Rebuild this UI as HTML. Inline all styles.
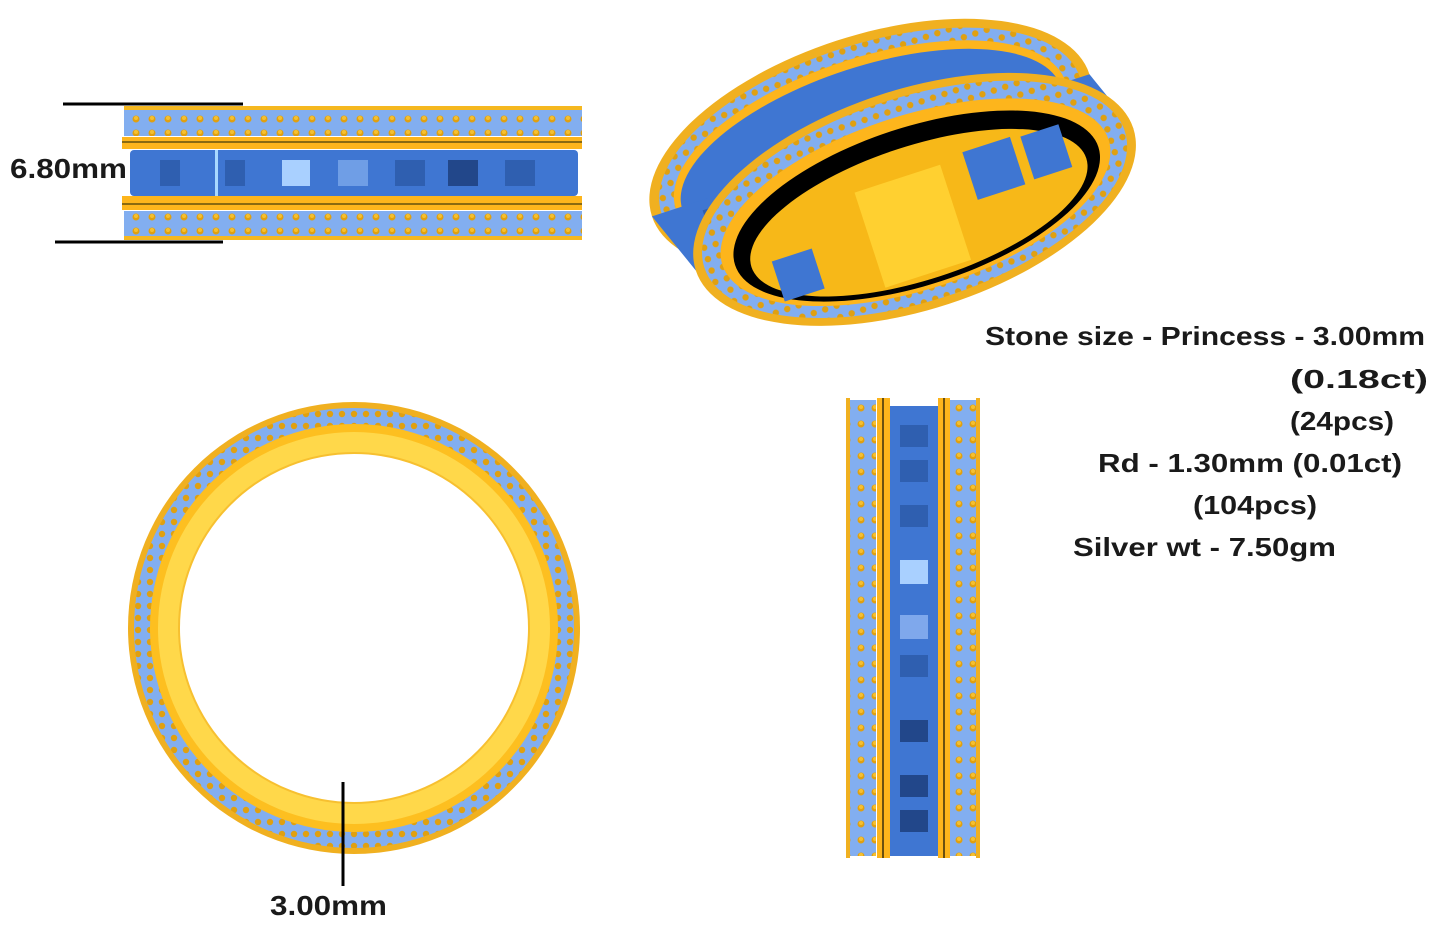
<!DOCTYPE html>
<html><head><meta charset="utf-8"><style>
html,body{margin:0;padding:0;background:#fff;width:1436px;height:938px;overflow:hidden}
svg{display:block}
text{font-family:"Liberation Sans",sans-serif;font-weight:bold;fill:#1a1a1a}
</style></head><body>
<svg width="1436" height="938" viewBox="0 0 1436 938">
<defs>
<pattern id="paveH" width="16" height="14" patternUnits="userSpaceOnUse">
<rect width="16" height="14" fill="#82aef0"/>
<circle cx="8" cy="7" r="3.5" fill="#e0a010"/><circle cx="8" cy="6" r="2" fill="#f5c030"/>
</pattern>
<pattern id="paveV" width="14" height="16" patternUnits="userSpaceOnUse">
<rect width="14" height="16" fill="#82aef0"/>
<circle cx="7" cy="8" r="3.5" fill="#e0a010"/><circle cx="7" cy="7" r="2" fill="#f5c030"/>
</pattern>
<pattern id="paveC" width="12" height="12" patternUnits="userSpaceOnUse">
<rect width="12" height="12" fill="#82aef0"/>
<circle cx="6" cy="6" r="3.2" fill="#e0a010"/>
</pattern>
</defs>

<!-- Top-left band -->
<line x1="63" y1="104" x2="243" y2="104" stroke="#000" stroke-width="3"/>
<line x1="55" y1="242" x2="223" y2="242" stroke="#000" stroke-width="3"/>
<rect x="124" y="108" width="458" height="28" fill="url(#paveH)"/>
<rect x="124" y="106" width="458" height="4" fill="#f5b820"/>
<rect x="122" y="137" width="460" height="12" fill="#fdb51c"/>
<rect x="122" y="141" width="460" height="2" fill="#8a6a10"/>
<rect x="130" y="150" width="448" height="46" rx="4" fill="#3f76d2"/>
<g fill="#2f5fb0">
<rect x="160" y="160" width="20" height="26"/><rect x="225" y="160" width="20" height="26"/>
<rect x="338" y="160" width="30" height="26" fill="#6f9ee6"/><rect x="395" y="160" width="30" height="26"/>
<rect x="448" y="160" width="30" height="26" fill="#22478a"/><rect x="505" y="160" width="30" height="26"/>
</g>
<rect x="282" y="160" width="28" height="26" fill="#a9d0ff"/>
<rect x="215" y="150" width="3" height="46" fill="#a9d8ff"/>
<rect x="122" y="196" width="460" height="14" fill="#fdb51c"/>
<rect x="122" y="203" width="460" height="2" fill="#8a6a10"/>
<rect x="124" y="211" width="458" height="28" fill="url(#paveH)"/>
<rect x="124" y="236" width="458" height="4" fill="#f5b820"/>
<text x="10" y="178" font-size="28" textLength="117" lengthAdjust="spacingAndGlyphs">6.80mm</text>

<!-- Perspective ring -->
<g transform="rotate(-18 892 172)">
<ellipse cx="880" cy="140" rx="230" ry="110" fill="#f0b020"/>
<ellipse cx="880" cy="140" rx="220" ry="101" fill="url(#paveC)"/>
<ellipse cx="880" cy="140" rx="205" ry="88" fill="#fdb51c"/>
<ellipse cx="880" cy="143" rx="199" ry="82" fill="#3f76d2"/>
<polygon points="650,140 1110,140 1135,205 675,205" fill="#3f76d2"/>
<g fill="#2f5fb0">
<rect x="700" y="150" width="40" height="40"/><rect x="770" y="140" width="40" height="40"/>
<rect x="930" y="130" width="40" height="40"/><rect x="1010" y="130" width="40" height="40" fill="#22478a"/>
</g>
<rect x="850" y="135" width="40" height="40" fill="#a9d0ff"/>
<ellipse cx="905" cy="205" rx="230" ry="110" fill="#f0b020"/>
<ellipse cx="905" cy="205" rx="221" ry="102" fill="url(#paveC)"/>
<ellipse cx="905" cy="208" rx="203" ry="87" fill="#fdb51c"/>
<ellipse cx="905" cy="212" rx="191" ry="79" fill="#000"/>
<ellipse cx="905" cy="219" rx="176" ry="67" fill="#f7b818"/>
<rect x="850" y="180" width="90" height="100" fill="#ffd030"/>
<rect x="965" y="175" width="50" height="50" fill="#3f76d2"/>
<rect x="1025" y="178" width="40" height="45" fill="#3f76d2"/>
<rect x="750" y="220" width="42" height="42" fill="#3f76d2"/>
</g>

<!-- Circle view -->
<circle cx="354" cy="628" r="226" fill="#f0b020"/>
<circle cx="354" cy="628" r="220" fill="url(#paveC)"/>
<circle cx="354" cy="628" r="204" fill="#fdbf20"/>
<circle cx="354" cy="628" r="196" fill="#ffd84a"/>
<circle cx="354" cy="628" r="175" fill="#fff" stroke="#f7c030" stroke-width="2"/>
<line x1="343" y1="782" x2="343" y2="886" stroke="#000" stroke-width="3"/>
<text x="270" y="915" font-size="28" textLength="117" lengthAdjust="spacingAndGlyphs">3.00mm</text>

<!-- Vertical band -->
<rect x="848" y="400" width="28" height="456" fill="url(#paveV)"/>
<rect x="950" y="400" width="28" height="456" fill="url(#paveV)"/>
<rect x="846" y="398" width="4" height="460" fill="#f0b020"/>
<rect x="976" y="398" width="4" height="460" fill="#f0b020"/>
<rect x="877" y="398" width="13" height="460" fill="#fdb51c"/>
<rect x="882" y="398" width="2" height="460" fill="#6a5010"/>
<rect x="938" y="398" width="12" height="460" fill="#fdb51c"/>
<rect x="943" y="398" width="2" height="460" fill="#6a5010"/>
<rect x="890" y="406" width="48" height="450" fill="#3f76d2"/>
<g fill="#2f5fb0">
<rect x="900" y="425" width="28" height="22"/><rect x="900" y="460" width="28" height="22"/>
<rect x="900" y="505" width="28" height="22"/><rect x="900" y="655" width="28" height="22"/>
<rect x="900" y="720" width="28" height="22" fill="#22478a"/><rect x="900" y="775" width="28" height="22" fill="#22478a"/>
<rect x="900" y="810" width="28" height="22" fill="#22478a"/>
</g>
<rect x="900" y="560" width="28" height="24" fill="#a9d0ff"/>
<rect x="900" y="615" width="28" height="24" fill="#7fa8ec"/>

<!-- Text -->
<g font-size="26">
<text x="985" y="345" textLength="440" lengthAdjust="spacingAndGlyphs">Stone size - Princess - 3.00mm</text>
<text x="1290" y="388" textLength="138" lengthAdjust="spacingAndGlyphs">(0.18ct)</text>
<text x="1290" y="430" textLength="104" lengthAdjust="spacingAndGlyphs">(24pcs)</text>
<text x="1098" y="472" textLength="304" lengthAdjust="spacingAndGlyphs">Rd - 1.30mm (0.01ct)</text>
<text x="1193" y="514" textLength="124" lengthAdjust="spacingAndGlyphs">(104pcs)</text>
<text x="1073" y="556" textLength="263" lengthAdjust="spacingAndGlyphs">Silver wt - 7.50gm</text>
</g>
</svg>
</body></html>
